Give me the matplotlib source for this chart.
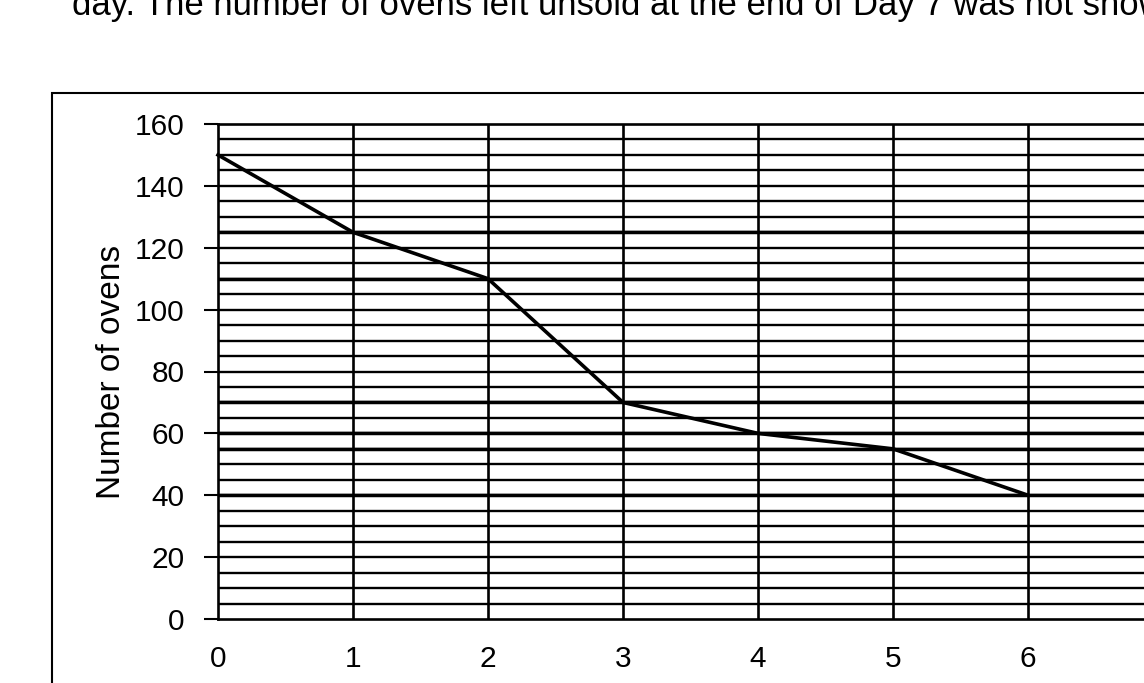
import matplotlib
matplotlib.use('Agg')
import matplotlib.pyplot as plt
from matplotlib.patches import Rectangle

# ==========================================
# DATA
# ==========================================
days = [0, 1, 2, 3, 4, 5, 6]
ovens_left = [150, 125, 110, 70, 60, 55, 40]
y_ticks = [0, 20, 40, 60, 80, 100, 120, 140, 160]
x_ticks = [0, 1, 2, 3, 4, 5, 6, 7]
# levels where the scan has heavier pen marks over the grid
marked_levels = [40, 55, 60, 70, 110, 125]

caption = "day. The number of ovens left unsold at the end of Day 7 was not shown"

plt.rcParams['font.family'] = ['Liberation Sans', 'DejaVu Sans']

W, H = 1144, 683
fig = plt.figure(figsize=(W / 100, H / 100), dpi=100)

# plot area in pixels: x=0 at 218, x=7 at 1163, y=160 at 124, y=0 at 619
ax = fig.add_axes([218 / W, (H - 619) / H, (1163 - 218) / W, (619 - 124) / H])

ax.set_xlim(0, 7)
ax.set_ylim(0, 160)

# grid: horizontal every 5, vertical every day
for lvl in range(5, 160, 5):
    ax.axhline(lvl, color='black', lw=1.7, zorder=1)
for lvl in marked_levels:
    ax.axhline(lvl, color='black', lw=2.5, zorder=1)
for d in x_ticks[1:]:
    ax.axvline(d, color='black', lw=1.9, zorder=1)

ax.plot(days, ovens_left, color='black', lw=2.6, zorder=3, clip_on=False)

for s in ax.spines.values():
    s.set_linewidth(1.9)
    s.set_color('black')

ax.set_yticks(y_ticks)
ax.set_xticks(x_ticks)
ax.tick_params(axis='y', length=10, width=1.5, pad=14, labelsize=21.5)
ax.tick_params(axis='x', length=0, pad=19, labelsize=21.5)
ax.set_ylabel('Number of ovens', fontsize=24, labelpad=6)

# outer frame of the original figure (cut off on right and bottom)
frame = Rectangle((52 / W, -0.1), 1.2, 1 - 93 / H + 0.1, transform=fig.transFigure,
                  fill=False, edgecolor='black', lw=1.5, clip_on=False)
fig.patches.append(frame)

# caption from the page, only the lower part is visible
fig.text(72 / W, 1 - 15 / H, caption, fontsize=25, va='baseline', ha='left')

fig.savefig('out.png', dpi=100)
